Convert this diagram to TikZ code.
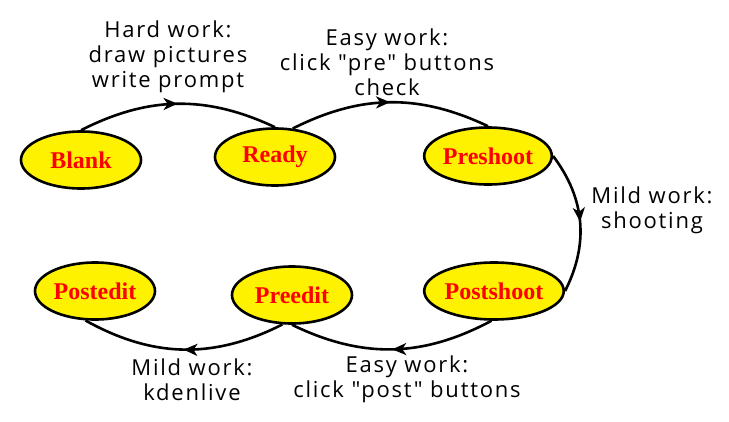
\documentclass[tikz,border=0pt]{standalone}
\usepackage{fontspec}
\setmainfont{Liberation Serif}
\newfontfamily\handfont[LetterSpace=8]{Open Sans}
\usetikzlibrary{shapes.geometric,arrows.meta,decorations.markings}
\tikzset{
  state/.style={ellipse, draw=black, line width=2.6pt, fill=yellow,
    minimum width=120pt, minimum height=57pt, inner sep=0pt,
    text=red, font=\fontsize{24}{26}\selectfont\bfseries},
  worklabel/.style={align=center, inner sep=0pt,
    font=\handfont\fontsize{22}{25}\selectfont},
  flow/.style={line width=2.6pt, draw=black,
    postaction={decorate},
    decoration={markings, mark=at position 0.5 with {\arrow{Stealth[length=14pt,width=12pt,inset=4pt]}}}}
}
\begin{document}
\begin{tikzpicture}[x=1pt,y=-1pt]
\useasboundingbox (0,0) rectangle (729,421);
\node[state] (blank) at (81,160) {Blank};
\node[state] (ready) at (275,157) {Ready};
\node[state] (preshoot) at (488,156) {Preshoot};
\node[state] (postedit) at (95,291) {Postedit};
\node[state] (preedit) at (292,295) {Preedit};
\node[state] (postshoot) at (494,291) {Postshoot};

\draw[flow] (blank.north) to[bend left=26] (ready.north);
\draw[flow] (ready.58) to[bend left=26] (preshoot.north);
\draw[flow] (preshoot.east) to[bend left=32] (postshoot.east);
\draw[flow] (postshoot.265) to[bend left=27] (preedit.south);
\draw[flow] (preedit.252) to[bend left=28] (postedit.252);

\node[worklabel] (l1) at (168,57) {Hard work:\\draw pictures\\write prompt};
\node[worklabel] (l2) at (387,62) {Easy work:\\click "pre" buttons\\check};
\node[worklabel] (l3) at (652,210) {Mild work:\\shooting};
\node[worklabel] (l4) at (407,379) {Easy work:\\click "post" buttons};
\node[worklabel] (l5) at (192,380) {Mild work:\\kdenlive};
\end{tikzpicture}
\end{document}
